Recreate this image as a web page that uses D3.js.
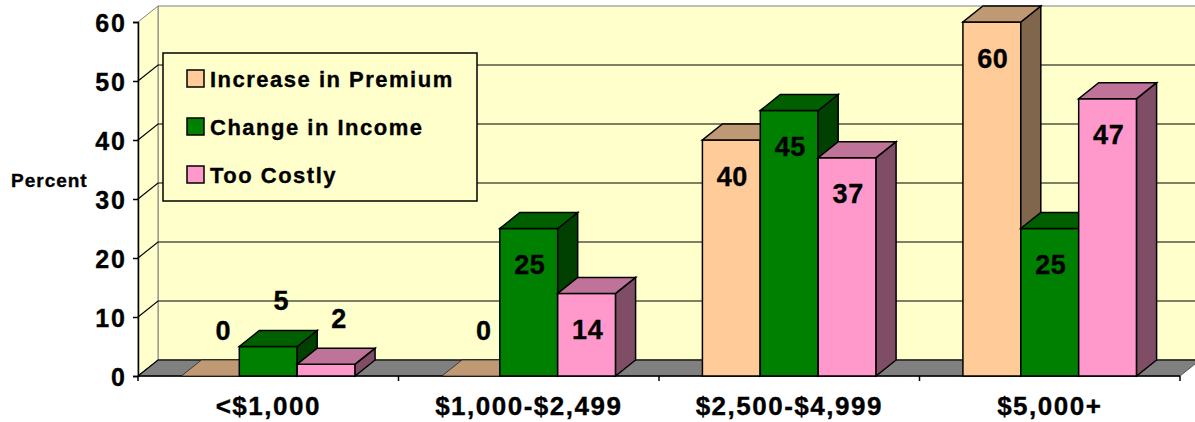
<!DOCTYPE html>
<html>
<head>
<meta charset="utf-8">
<script src="https://cdn.jsdelivr.net/npm/d3@7"></script>
<style>
  body { margin: 0; background: #fff; }
  svg text { font-family: "Liberation Sans", Arial, sans-serif; font-weight: bold; fill: #000; stroke: #000; stroke-width: 0.35px; }
</style>
</head>
<body>
<svg id="chart" width="1195" height="422"></svg>
<script>
// data
var categories = ["<$1,000", "$1,000-$2,499", "$2,500-$4,999", "$5,000+"];
var seriesNames = ["Increase in Premium", "Change in Income", "Too Costly"];
var increasePremium = [0, 0, 40, 60];
var changeIncome = [5, 25, 45, 25];
var tooCostly = [2, 14, 37, 47];
var yTicks = [0, 10, 20, 30, 40, 50, 60];

var seriesValues = [increasePremium, changeIncome, tooCostly];
var fronts = ["#FFCC99", "#008000", "#FF99CC"];

var svg = d3.select("#chart");
var left = 138, right = 1180, DX = 20, DY = -16;

var x = d3.scaleBand().domain(categories).range([left, right]).padding(0);
var sub = d3.scaleBand().domain(d3.range(seriesNames.length))
	.range([0, x.bandwidth()]).paddingInner(0).paddingOuter(0.75);
var y = d3.scaleLinear().domain([0, 60]).range([376, 22]);

function shade(c, k) {
	var r = d3.rgb(c);
	return d3.rgb(r.r * k, r.g * k, r.b * k).formatHex();
}
function poly(pts) {
	return "M" + pts.map(function(p) { return p[0] + "," + p[1]; }).join("L") + "Z";
}

var y0 = y(0), yTop = y(60);

// walls and floor
svg.append("path")
	.attr("d", poly([[left + DX, yTop + DY], [right + DX, yTop + DY], [right + DX, y0 + DY], [left + DX, y0 + DY]]))
	.attr("fill", "#FFFFCC").attr("stroke", "#808080");
svg.append("path")
	.attr("d", poly([[left, yTop], [left + DX, yTop + DY], [left + DX, y0 + DY], [left, y0]]))
	.attr("fill", "#FFFFCC").attr("stroke", "#808080");
svg.append("path")
	.attr("d", poly([[left, y0], [left + DX, y0 + DY], [right + DX, y0 + DY], [right, y0]]))
	.attr("fill", "#808080").attr("stroke", "#555");

// gridlines on the walls
svg.append("g").selectAll("path")
	.data(yTicks.filter(function(t) { return t < 60; }))
	.enter().append("path")
	.attr("d", function(t) {
		return "M" + left + "," + y(t) + "L" + (left + DX) + "," + (y(t) + DY) + "L" + (right + DX) + "," + (y(t) + DY);
	})
	.attr("fill", "none").attr("stroke", "#000").attr("stroke-width", 1.2);

// axes
var yAxis = svg.append("g")
	.attr("transform", "translate(" + left + ",0)")
	.call(d3.axisLeft(y).tickValues(yTicks).tickSize(5).tickPadding(8));
yAxis.select(".domain").attr("stroke", "#000").attr("stroke-width", 1.5);
yAxis.selectAll(".tick line").attr("stroke", "#000").attr("stroke-width", 1.5);
yAxis.selectAll("text")
	.attr("fill", "#000")
	.style("font-size", "25px").style("letter-spacing", "2px")
	.attr("dx", "2").attr("dy", "0.36em");

svg.append("line")
	.attr("x1", left).attr("x2", right).attr("y1", y0).attr("y2", y0)
	.attr("stroke", "#000").attr("stroke-width", 1.5);
svg.append("g").selectAll("line")
	.data(categories.map(function(c) { return x(c); }).concat([right]))
	.enter().append("line")
	.attr("x1", function(d) { return d; }).attr("x2", function(d) { return d; })
	.attr("y1", y0).attr("y2", y0 + 5)
	.attr("stroke", "#000").attr("stroke-width", 1.5);

svg.append("g").selectAll("text")
	.data(categories)
	.enter().append("text")
	.attr("x", function(d) { return x(d) + x.bandwidth() / 2; })
	.attr("y", 415)
	.attr("text-anchor", "middle")
	.style("font-size", "26px").style("letter-spacing", "1.5px")
	.text(function(d) { return d; });

svg.append("text")
	.attr("x", 11).attr("y", 187)
	.style("font-size", "19px").style("letter-spacing", "1px")
	.text("Percent");

// bars, drawn left to right so each front hides the neighbour's side
var bars = [];
categories.forEach(function(c, i) {
	seriesValues.forEach(function(vals, j) {
		bars.push({ cat: c, s: j, v: vals[i] });
	});
});

var bar = svg.append("g").selectAll("g")
	.data(bars)
	.enter().append("g");

bar.each(function(d) {
	var g = d3.select(this);
	var bx = x(d.cat) + sub(d.s), w = sub.bandwidth(), by = y(d.v);
	var col = fronts[d.s];
	if (d.v > 0) {
		g.append("rect")
			.attr("x", bx).attr("y", by).attr("width", w).attr("height", y0 - by)
			.attr("fill", col).attr("stroke", "#000").attr("stroke-width", 1.5);
		g.append("path")
			.attr("d", poly([[bx + w, by], [bx + w + DX, by + DY], [bx + w + DX, y0 + DY], [bx + w, y0]]))
			.attr("fill", shade(col, 0.5)).attr("stroke", "#000").attr("stroke-width", 1.5);
	}
	g.append("path")
		.attr("d", poly([[bx, by], [bx + w, by], [bx + w + DX, by + DY], [bx + DX, by + DY]]))
		.attr("fill", shade(col, 0.75)).attr("stroke", "#000").attr("stroke-width", d.v > 0 ? 1.5 : 0.6);
});

// value labels: inside tall bars, above the short ones
bar.append("text")
	.attr("x", function(d) {
		var cx = x(d.cat) + sub(d.s) + sub.bandwidth() / 2;
		return d.v >= 10 ? cx + 1 : cx + DX / 2 + 3;
	})
	.attr("y", function(d) {
		return d.v >= 10 ? y(d.v) + 36 : y(d.v) + DY / 2 - 38;
	})
	.attr("dy", "0.36em")
	.attr("text-anchor", "middle")
	.style("font-size", "27px").style("letter-spacing", "0.5px")
	.text(function(d) { return d.v; });

// legend
var legend = svg.append("g").attr("transform", "translate(163,53)");
legend.append("rect")
	.attr("width", 314).attr("height", 148)
	.attr("fill", "#FFFFCC").attr("stroke", "#000").attr("stroke-width", 1.5);
var item = legend.selectAll("g.item")
	.data(seriesNames)
	.enter().append("g").attr("class", "item")
	.attr("transform", function(d, i) { return "translate(24," + (17 + i * 48) + ")"; });
item.append("rect")
	.attr("width", 17).attr("height", 17)
	.attr("fill", function(d, i) { return fronts[i]; })
	.attr("stroke", "#000").attr("stroke-width", 1.5);
item.append("text")
	.attr("x", 23).attr("y", 17)
	.style("font-size", "22px").style("letter-spacing", "1.5px")
	.text(function(d) { return d; });
</script>
</body>
</html>
